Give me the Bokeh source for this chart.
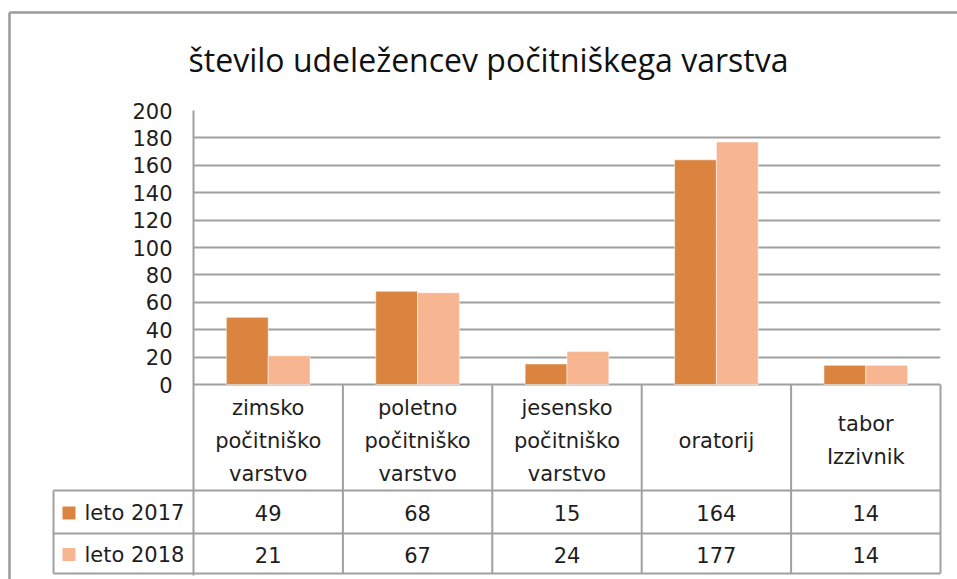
from bokeh.plotting import figure
from bokeh.models import Range1d, FixedTicker
from bokeh.embed import file_html
from bokeh.resources import INLINE
from bokeh.core.properties import value

# ---------------- data ----------------
title_text = "število udeležencev počitniškega varstva"
categories = ["zimsko počitniško varstvo", "poletno počitniško varstvo",
              "jesensko počitniško varstvo", "oratorij", "tabor Izzivnik"]
category_lines = [["zimsko", "počitniško", "varstvo"],
                  ["poletno", "počitniško", "varstvo"],
                  ["jesensko", "počitniško", "varstvo"],
                  ["oratorij"],
                  ["tabor", "Izzivnik"]]
series_names = ["leto 2017", "leto 2018"]
values_2017 = [49, 68, 15, 164, 14]
values_2018 = [21, 67, 24, 177, 14]
y_ticks = [0, 20, 40, 60, 80, 100, 120, 140, 160, 180, 200]

# ---------------- styles ----------------
C2017 = "#DA843F"
C2018 = "#F8B591"
GRID = "#A0A0A0"
TXT = "#1E1E1E"
FONT = "DejaVu Sans"
TITLE_FONT = "Open Sans"

# ---------------- layout (screen pixels) ----------------
FIG_W, FIG_H = 957, 579
PLOT_L, PLOT_R = 193, 940
PLOT_T, ZERO = 110, 384
FRAME_B = 575
XPX = (PLOT_R - PLOT_L) / len(categories)
YPX = (ZERO - PLOT_T) / 200.0


def dx(px):
    return (px - PLOT_L) / XPX


def dy(py):
    return -(py - ZERO) / YPX


p = figure(width=FIG_W, height=FIG_H, output_backend="svg", toolbar_location=None,
           x_range=Range1d(0, len(categories)), y_range=Range1d(dy(FRAME_B), 200),
           x_axis_location=None, min_border_left=PLOT_L,
           min_border_right=FIG_W - PLOT_R, min_border_top=PLOT_T,
           min_border_bottom=FIG_H - FRAME_B)
p.outline_line_color = None
p.background_fill_color = "white"
p.border_fill_color = "white"
p.xgrid.visible = False

p.yaxis.ticker = FixedTicker(ticks=y_ticks)
p.yaxis.axis_line_color = GRID
p.yaxis.axis_line_width = 2
p.yaxis.major_tick_line_color = None
p.yaxis.minor_tick_line_color = None
p.yaxis.major_tick_in = 0
p.yaxis.major_tick_out = 0
p.yaxis.major_label_standoff = 21
p.yaxis.major_label_text_font = FONT
p.yaxis.major_label_text_font_size = "21px"
p.yaxis.major_label_text_color = TXT

p.ygrid.ticker = FixedTicker(ticks=y_ticks)
p.ygrid.grid_line_color = GRID
p.ygrid.grid_line_width = 2

# ---------------- bars ----------------
xs = [i + 0.5 for i in range(len(categories))]
BW = 0.28
p.vbar(x=[x - BW / 2 for x in xs], top=values_2017, bottom=0, width=BW,
       fill_color=C2017, line_color="white", line_alpha=0.5, line_width=1)
p.vbar(x=[x + BW / 2 for x in xs], top=values_2018, bottom=0, width=BW,
       fill_color=C2018, line_color="white", line_alpha=0.5, line_width=1)

# ---------------- table ----------------
ROW1, ROW2, ROWB = 490, 533, 573
y_r1, y_r2, y_b = dy(ROW1), dy(ROW2), dy(ROWB)
x_tab_l = dx(53)
n = len(categories)

# horizontal lines
p.segment(x0=[x_tab_l] * 3, x1=[n] * 3, y0=[y_r1, y_r2, y_b], y1=[y_r1, y_r2, y_b],
          line_color=GRID, line_width=2, level="overlay")
# vertical lines
vx = list(range(1, n + 1))
p.segment(x0=vx, x1=vx, y0=[0] * n, y1=[y_b] * n,
          line_color=GRID, line_width=2, level="overlay")
p.segment(x0=[x_tab_l], x1=[x_tab_l], y0=[y_r1], y1=[y_b],
          line_color=GRID, line_width=2, level="overlay")

# category labels
LINE_H = 33
HDR_C = 440
lx, ly, lt = [], [], []
for i, lines in enumerate(category_lines):
    k = len(lines)
    for j, t in enumerate(lines):
        lx.append(xs[i])
        ly.append(dy(HDR_C + (j - (k - 1) / 2) * LINE_H))
        lt.append(t)
p.text(x=lx, y=ly, text=lt, text_align="center", text_baseline="middle",
       text_font=value(FONT), text_font_size="21px", text_color=TXT, level="overlay")

# values
yc1 = dy((ROW1 + ROW2) / 2 + 1)
yc2 = dy((ROW2 + ROWB) / 2 + 1)
p.text(x=xs, y=[yc1] * n, text=[str(v) for v in values_2017], text_align="center",
       text_baseline="middle", text_font=value(FONT), text_font_size="21px",
       text_color=TXT, level="overlay")
p.text(x=xs, y=[yc2] * n, text=[str(v) for v in values_2018], text_align="center",
       text_baseline="middle", text_font=value(FONT), text_font_size="21px",
       text_color=TXT, level="overlay")

# legend keys in table (drawn as short thick segments)
p.segment(x0=[dx(62)] * 2, x1=[dx(75)] * 2, y0=[yc1, yc2], y1=[yc1, yc2],
          line_width=13, line_color=[C2017, C2018], line_cap="butt", level="overlay")
p.text(x=[dx(84)] * 2, y=[yc1, yc2], text=series_names, text_align="left",
       text_baseline="middle", text_font=value(FONT), text_font_size="21px",
       text_color=TXT, level="overlay")

# title
p.text(x=[dx(488)], y=[dy(59)], text=[title_text], text_align="center",
       text_baseline="middle", text_font=value(TITLE_FONT), text_font_size="32px",
       text_color="#111111", level="overlay")

# chart border (top and left)
p.segment(x0=[dx(9), dx(9)], x1=[dx(980), dx(9)], y0=[dy(12), dy(12)], y1=[dy(12), dy(600)],
          line_color="#9A9A9A", line_width=2.5, level="overlay")

open("out.html", "w").write(file_html(p, INLINE))
